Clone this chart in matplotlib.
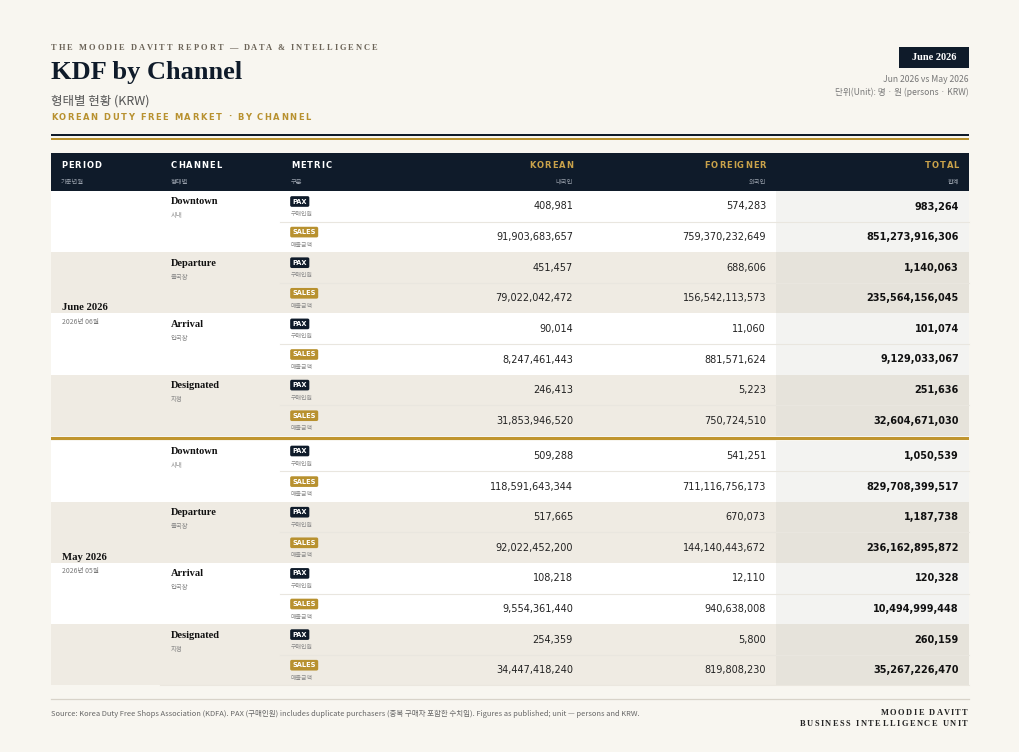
import matplotlib.pyplot as plt
from matplotlib.patches import Rectangle

# ---- data ----
periods = ['June 2026', 'May 2026']
periods_kr = ['2026년 06월', '2026년 05월']
channels = ['Downtown', 'Departure', 'Arrival', 'Designated']
channels_kr = ['시내', '출국장', '입국장', '지정']
metrics = ['PAX', 'SALES']
metrics_kr = ['구매인원', '매출금액']

# order: Downtown PAX, Downtown SALES, Departure PAX, ... Designated SALES
korean_jun = [408981, 91903683657, 451457, 79022042472,
              90014, 8247461443, 246413, 31853946520]
foreign_jun = [574283, 759370232649, 688606, 156542113573,
               11060, 881571624, 5223, 750724510]
total_jun = [983264, 851273916306, 1140063, 235564156045,
             101074, 9129033067, 251636, 32604671030]

korean_may = [509288, 118591643344, 517665, 92022452200,
              108218, 9554361440, 254359, 34447418240]
foreign_may = [541251, 711116756173, 670073, 144140443672,
               12110, 940638008, 5800, 819808230]
total_may = [1050539, 829708399517, 1187738, 236162895872,
             120328, 10494999448, 260159, 35267226470]

blocks = [(korean_jun, foreign_jun, total_jun), (korean_may, foreign_may, total_may)]

# ---- colours / fonts ----
BG = '#f8f6f0'
NAVY = '#0f1b2a'
GOLD = '#b8912f'
BAND = '#efebe3'
TOT_W = '#f3f3f1'
TOT_B = '#e6e3db'
SEP = '#e9e6df'
SERIF = ['Liberation Serif', 'DejaVu Serif']
SANS = ['DejaVu Sans']
KR = ['Noto Sans CJK KR', 'DejaVu Sans']

fig = plt.figure(figsize=(10.2, 7.52), dpi=100)
fig.patch.set_facecolor(BG)
ax = fig.add_axes([0, 0, 1, 1])
ax.set_xlim(0, 1020)
ax.set_ylim(752, 0)
ax.axis('off')
ax.set_facecolor(BG)
renderer = fig.canvas.get_renderer()


def spaced(x, y, s, gap, ha='left', **kw):
    # letter-spaced text: glyphs placed one by one at their pen positions
    def w(txt):
        t = ax.text(0, 0, txt, **kw)
        bb = t.get_window_extent(renderer)
        t.remove()
        return bb.width
    q0 = w('||')
    pos = [w('|' + s[:i] + '|') - q0 for i in range(len(s))]
    total = w('|' + s + '|') - q0 + gap * (len(s) - 1)
    if ha == 'right':
        x0 = x - total
    elif ha == 'center':
        x0 = x - total / 2
    else:
        x0 = x
    for i, ch in enumerate(s):
        if ch != ' ':
            ax.text(x0 + pos[i] + i * gap, y, ch, ha='left', **kw)


L, R = 51, 969

# ---- header ----
spaced(L, 48, 'THE MOODIE DAVITT REPORT — DATA & INTELLIGENCE', 2.0,
       va='center', fontsize=6, fontweight='bold', family=SERIF, color='#6b6357')
ax.text(L, 72, 'KDF by Channel', va='center', ha='left', fontsize=19,
        fontweight='bold', family=SERIF, color=NAVY)
ax.text(L, 101, '형태별 현황 (KRW)', va='center', ha='left', fontsize=9,
        family=KR, color='#555555')
spaced(L, 117, 'KOREAN DUTY FREE MARKET · BY CHANNEL', 1.6,
       va='center', fontsize=6, fontweight='bold', family=SANS, color=GOLD)

ax.add_patch(Rectangle((899, 47), 70, 21, fc=NAVY, ec='none'))
ax.text(934, 57.5, 'June 2026', ha='center', va='center', fontsize=7.5,
        fontweight='bold', family=SERIF, color='white')
ax.text(R, 80, 'Jun 2026 vs May 2026', ha='right', va='center', fontsize=6.2,
        family=KR, color='#777777')
ax.text(R, 92, '단위(Unit): 명 · 원 (persons · KRW)', ha='right', va='center',
        fontsize=6.2, family=KR, color='#777777')

ax.add_patch(Rectangle((L, 133.5), R - L, 2.5, fc=NAVY, ec='none'))
ax.add_patch(Rectangle((L, 138), R - L, 2, fc=GOLD, ec='none'))

# ---- table header ----
ax.add_patch(Rectangle((L, 153), R - L, 37.5, fc=NAVY, ec='none'))
heads = [('PERIOD', '기준년월', 61, 'left', 'white'),
         ('CHANNEL', '형태별', 171, 'left', 'white'),
         ('METRIC', '구분', 291, 'left', 'white'),
         ('KOREAN', '내국인', 573, 'right', '#c9a24a'),
         ('FOREIGNER', '외국인', 766, 'right', '#c9a24a'),
         ('TOTAL', '합계', 959, 'right', '#c9a24a')]
for en, kr, x, ha, c in heads:
    spaced(x, 166, en, 1.0, ha=ha, va='center', fontsize=6,
           fontweight='bold', family=SANS, color=c)
    ax.text(x, 182, kr, ha=ha, va='center', fontsize=4.5, family=KR, color='#9aa2ad')

# ---- table body ----
ROW_H = 30.6
tops = [191, 440.5]
for b, (kor, frn, tot) in enumerate(blocks):
    top = tops[b]
    for g in range(len(channels)):
        gy = top + g * 2 * ROW_H
        band = 'white' if g % 2 == 0 else BAND
        tband = TOT_W if g % 2 == 0 else TOT_B
        ax.add_patch(Rectangle((L, gy), 776 - L, 2 * ROW_H, fc=band, ec='none'))
        ax.add_patch(Rectangle((776, gy), R - 776, 2 * ROW_H, fc=tband, ec='none'))
        ax.text(171, gy + 11, channels[g], ha='left', va='center', fontsize=7.5,
                fontweight='bold', family=SERIF, color='#111111')
        ax.text(171, gy + 24.5, channels_kr[g], ha='left', va='center', fontsize=4.6,
                family=KR, color='#888888')
        for m in range(2):
            ry = gy + m * ROW_H
            i = g * 2 + m
            bc = NAVY if m == 0 else GOLD
            ax.text(292.5, ry + 10.5, metrics[m], ha='left', va='center', fontsize=4.8,
                    fontweight='bold', family=SANS, color='white',
                    bbox=dict(boxstyle='round,pad=0.35,rounding_size=0.25', fc=bc, ec='none'))
            ax.text(291, ry + 23.5, metrics_kr[m], ha='left', va='center', fontsize=4.3,
                    family=KR, color='#888888')
            ax.text(573, ry + 15.5, f'{kor[i]:,}', ha='right', va='center', fontsize=7,
                    family=SANS, color='#222222')
            ax.text(766, ry + 15.5, f'{frn[i]:,}', ha='right', va='center', fontsize=7,
                    family=SANS, color='#222222')
            ax.text(959, ry + 15.5, f'{tot[i]:,}', ha='right', va='center', fontsize=7,
                    fontweight='bold', family=SANS, color='#111111')
            if m == 0:
                ax.plot([280, R], [ry + ROW_H, ry + ROW_H], color=SEP, lw=0.8)
    # period label in the middle of the block
    mid = top + 4 * ROW_H
    ax.text(62, mid - 5.5, periods[b], ha='left', va='center', fontsize=7.7,
            fontweight='bold', family=SERIF, color='#111111')
    ax.text(62, mid + 8.5, periods_kr[b], ha='left', va='center', fontsize=4.9,
            family=KR, color='#777777')

# gold divider between the two months
ax.add_patch(Rectangle((L, 436.5), R - L, 3.5, fc='#c0952f', ec='none'))
bottom = tops[1] + 8 * ROW_H
ax.plot([160, R], [bottom, bottom], color='#ebe7df', lw=0.8)

# ---- footer ----
ax.plot([L, R], [699, 699], color='#d8d3c9', lw=0.9)
ax.text(L, 714, 'Source: Korea Duty Free Shops Association (KDFA). PAX (구매인원) includes '
        'duplicate purchasers (중복 구매자 포함한 수치임). Figures as published; unit — persons and KRW.',
        ha='left', va='center', fontsize=5.42, family=KR, color='#666666')
spaced(R - 1, 713, 'MOODIE DAVITT', 1.5, ha='right', va='center', fontsize=6,
       fontweight='bold', family=SERIF, color='#222222')
spaced(R - 1, 724.5, 'BUSINESS INTELLIGENCE UNIT', 1.5, ha='right', va='center',
       fontsize=6, fontweight='bold', family=SERIF, color='#222222')

fig.savefig('out.png', dpi=100, facecolor=BG)
